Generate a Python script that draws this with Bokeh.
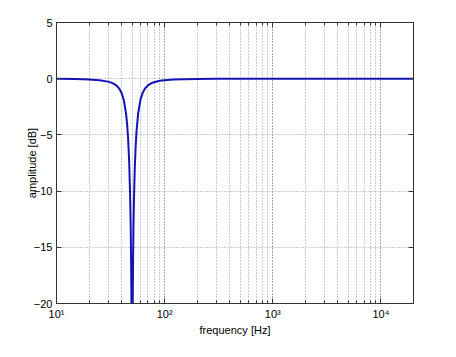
from bokeh.plotting import figure
from bokeh.models import LogAxis, LinearAxis, Range1d, LogTicker, FixedTicker
from bokeh.embed import file_html
from bokeh.resources import INLINE

# Frequency response of a 50 Hz notch filter
freq_hz = [10, 15, 20, 25, 30, 33, 36, 38, 40, 42, 44, 45, 46, 47, 48, 48.5, 49, 49.5, 50,
           50.5, 51, 51.5, 52, 53, 54, 55, 57, 60, 63, 66, 70, 75, 80, 90, 100, 120, 150,
           200, 300, 500, 1000, 2000, 5000, 10000, 20000]
amp_db = [-0.01, -0.03, -0.07, -0.13, -0.26, -0.39, -0.62, -0.88, -1.28, -1.94, -3.13, -4.07,
          -5.42, -7.42, -10.56, -12.93, -16.38, -22.4, -40.0,
          -22.45, -16.55, -13.18, -10.88, -7.85, -5.93, -4.62, -3.02, -1.80, -1.20, -0.86,
          -0.60, -0.41, -0.31, -0.19, -0.13, -0.08, -0.04, -0.02, -0.01, -0.003, -0.001,
          0.0, 0.0, 0.0, 0.0]

x_ticks = [10, 100, 1000, 10000]
x_tick_labels = ["10\u00b9", "10\u00b2", "10\u00b3", "10\u2074"]
y_ticks = [-20, -15, -10, -5, 0, 5]

FONT = "Liberation Sans"

p = figure(width=440, height=340, x_axis_type="log",
           x_range=Range1d(10, 20000), y_range=Range1d(-20, 5),
           output_backend="svg", toolbar_location=None,
           min_border_left=56, min_border_right=27, min_border_top=22, min_border_bottom=37,
           x_axis_label="frequency [Hz]", y_axis_label="amplitude [dB]")

p.line(freq_hz, amp_db, line_color="#1414b4", line_width=2)

xt = LogTicker(num_minor_ticks=10, mantissas=[1])
yt = FixedTicker(ticks=y_ticks)

for ax in p.xaxis:
    ax.ticker = xt
    ax.major_label_overrides = {t: l for t, l in zip(x_ticks, x_tick_labels)}
for ax in p.yaxis:
    ax.ticker = yt

def style_axis(ax, show_labels):
    ax.axis_line_color = "#333333"
    ax.axis_line_width = 1
    ax.major_tick_in = 5
    ax.major_tick_out = 0
    ax.minor_tick_in = 3
    ax.minor_tick_out = 0
    ax.major_tick_line_color = "#333333"
    ax.minor_tick_line_color = "#333333"
    ax.major_label_text_font = FONT
    ax.major_label_text_font_size = "11px"
    ax.major_label_text_color = "#000000" if show_labels else None
    ax.axis_label_text_font = FONT
    ax.axis_label_text_font_size = "11px"
    ax.axis_label_text_font_style = "normal"
    ax.axis_label_text_color = "#000000"

for ax in p.xaxis:
    style_axis(ax, True)
    ax.major_label_standoff = 4
    ax.axis_label_standoff = 1
for ax in p.yaxis:
    style_axis(ax, True)
    ax.minor_tick_line_color = None
    ax.major_label_standoff = 4
    ax.axis_label_standoff = -7

top = LogAxis(ticker=xt)
style_axis(top, False)
top.major_label_text_font_size = "0px"
top.major_label_standoff = 0
right = LinearAxis(ticker=yt)
style_axis(right, False)
right.minor_tick_line_color = None
right.major_label_text_font_size = "0px"
right.major_label_standoff = 0
p.add_layout(top, "above")
p.add_layout(right, "right")

p.xgrid.ticker = xt
p.xgrid.grid_line_color = "#9a9a9a"
p.xgrid.grid_line_dash = "1 2"
p.xgrid.grid_line_width = 1
p.xgrid.minor_grid_line_color = "#9a9a9a"
p.xgrid.minor_grid_line_dash = "1 2"
p.ygrid.ticker = yt
p.ygrid.grid_line_color = "#9a9a9a"
p.ygrid.grid_line_dash = "1 2"

p.outline_line_color = "#333333"
p.background_fill_color = "white"
p.border_fill_color = "white"

open("out.html", "w").write(file_html(p, INLINE))
